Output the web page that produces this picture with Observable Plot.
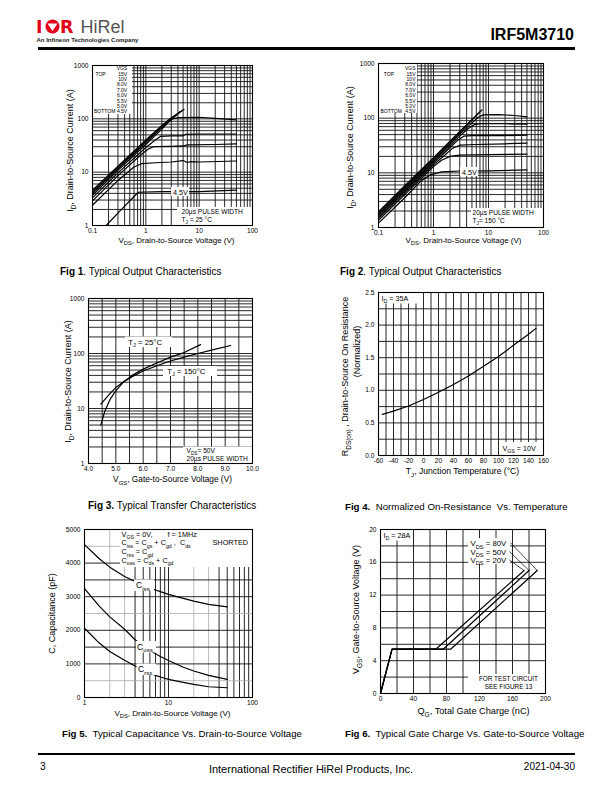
<!DOCTYPE html>
<html><head><meta charset="utf-8">
<script src="https://cdn.jsdelivr.net/npm/d3@7"></script>
<script src="https://cdn.jsdelivr.net/npm/@observablehq/plot@0.6"></script>
<style>
html,body{margin:0;padding:0;background:#fff;}
body{font-family:"Liberation Sans",Arial,Helvetica,sans-serif;color:#000;}
#page{position:relative;width:612px;height:792px;overflow:hidden;background:#fff;}
.abs{position:absolute;white-space:pre;line-height:12px;}
.cap{font-size:10px;}
</style></head><body><div id="page"></div>
<script>
// ---------------- DATA ----------------
// Fig 1: Typical output characteristics, TJ = 25 °C  [VDS (V), ID (A)]
const vgsLevels = ["15V","10V","8.0V","7.0V","6.0V","5.5V","5.0V","4.5V"];
const f1_15V = [[0.1,4.6],[0.3,13],[1,40],[2,75],[3,105],[5.2,150]];
const f1_10V = [[0.1,4.3],[0.3,12.3],[1,38],[2,72],[3,101],[4.8,143]];
const f1_8V  = [[0.1,4.0],[0.3,11.6],[1,36],[2,69],[3,97],[4.4,136]];
const f1_7V  = [[0.1,3.7],[0.3,10.8],[1,33],[2,64],[2.6,85],[3.2,100],[4,105],[10,107],[20,102],[50,96]];
const f1_6V  = [[0.1,3.3],[0.3,9.7],[1,29],[1.5,40],[1.9,47],[3,48],[5,48],[5.5,51],[10,52],[50,52]];
const f1_55V = [[0.1,2.9],[0.3,8.6],[0.8,21],[1.1,27],[1.4,30],[3,30.5],[5,31],[6,32.5],[20,33],[50,34]];
const f1_5V  = [[0.1,2.4],[0.3,7.0],[0.6,12.5],[0.85,14.5],[1.5,15],[3,15.5],[5,16.5],[6,15.2],[7,15.8],[10,15.5],[50,16.2]];
const f1_45V = [[0.18,1.0],[0.35,2.0],[0.72,4.2],[2,4.3],[10,4.3],[50,4.6]];
// Fig 2: Typical output characteristics, TJ = 150 °C
const f2_15V = [[0.1,1.95],[0.3,5.8],[1,19],[3,57],[7.6,142]];
const f2_10V = [[0.1,1.85],[0.3,5.5],[1,18],[3,54],[7.2,135]];
const f2_8V  = [[0.1,1.75],[0.3,5.2],[1,17],[3,51],[5,82],[6.5,104],[8,115],[15,116],[30,112],[50,106]];
const f2_7V  = [[0.1,1.65],[0.3,4.9],[1,16],[3,47],[4.2,64],[5.5,76],[7,79],[20,79],[50,78]];
const f2_6V  = [[0.1,1.55],[0.3,4.6],[1,15],[2,29],[2.8,40],[3.6,47],[5,48],[20,48],[50,49]];
const f2_55V = [[0.1,1.45],[0.3,4.3],[1,14],[1.6,21],[2.2,28],[3,32],[6,33],[20,34],[50,35]];
const f2_5V  = [[0.1,1.35],[0.3,4.0],[1,13],[1.4,17],[2,20],[3,21],[10,21.5],[50,22]];
const f2_45V = [[0.1,1.2],[0.3,3.5],[0.6,7.2],[0.9,9.3],[1.4,10.4],[3,10.8],[10,10.9],[50,11.3]];
// Fig 3: Transfer characteristics [VGS (V), ID (A)]
const f3_25C  = [[4.45,5],[4.6,9],[4.8,15],[5.0,21],[5.3,31],[5.6,40],[6.0,52],[6.5,67],[7.0,86],[7.5,104],[8.1,145]];
const f3_150C = [[4.45,12],[4.8,19],[5.0,24],[5.3,31],[5.6,38],[6.0,48],[6.5,60],[7.0,73],[7.5,86],[8.0,100],[8.5,115],[9.2,140]];
// Fig 4: Normalized RDS(on) vs TJ
const f4_temp = [-55,-40,-20,0,20,40,60,80,100,120,140,150];
const f4_rds  = [0.63,0.68,0.76,0.86,0.97,1.09,1.22,1.37,1.52,1.69,1.86,1.95];
// Fig 5: Capacitance vs VDS (pF)
const f5_vds  = [1,1.5,2,3,4,5,6,7,8,10,15,20,30,50];
const f5_ciss = [4550,4130,3880,3600,3450,3340,3260,3200,3150,3070,2950,2870,2770,2700];
const f5_coss = [3240,2720,2400,2030,1720,1530,1400,1300,1220,1100,900,790,660,540];
const f5_crss = [2060,1620,1370,1110,940,820,720,660,610,540,450,390,320,290];
// Fig 6: Gate charge [QG (nC), VGS (V)]
const f6_20V = [[0,0],[14,5.4],[67,5.4],[174,15]];
const f6_50V = [[0,0],[14,5.4],[76,5.4],[180,15]];
const f6_80V = [[0,0],[14,5.4],[85,5.4],[190,15]];

// ---------------- HELPERS ----------------
const FONT = "'Liberation Sans', Arial, Helvetica, sans-serif";
const page = document.getElementById("page");
const ML = 55, MR = 10, MT = 8, MB = 28;
const lg = Math.log10;
const GRID = "#111", LIGHT = "#aaa", GW = 0.9;
const YL = 9; // y axis label size

function logMinor(a, b) {
  const out = [];
  for (let e = Math.floor(lg(a)); e < Math.ceil(lg(b)); e++)
    for (let k = 1; k < 10; k++) { const v = +(k * Math.pow(10, e)).toPrecision(6); if (v > a * 1.0001 && v < b * 0.9999) out.push(v); }
  return out;
}
function range(a, b, s) { const o = []; for (let v = a; v <= b + 1e-9; v += s) o.push(+v.toFixed(6)); return o; }
function inv(c) {
  const fx = c.xType === "log"
    ? p => Math.pow(10, lg(c.xDomain[0]) + (p - c.l) / c.w * (lg(c.xDomain[1]) - lg(c.xDomain[0])))
    : p => c.xDomain[0] + (p - c.l) / c.w * (c.xDomain[1] - c.xDomain[0]);
  const fy = c.yType === "log"
    ? p => Math.pow(10, lg(c.yDomain[0]) + (c.t + c.h - p) / c.h * (lg(c.yDomain[1]) - lg(c.yDomain[0])))
    : p => c.yDomain[0] + (c.t + c.h - p) / c.h * (c.yDomain[1] - c.yDomain[0]);
  return {fx, fy};
}
function boxes(c, list) {
  const {fx, fy} = inv(c);
  return Plot.rect(list.map(([a, b, d, e]) => ({x1: fx(a), x2: fx(d), y1: fy(e), y2: fy(b)})),
    {x1: "x1", x2: "x2", y1: "y1", y2: "y2", fill: "white"});
}
function lbl(c, s, px, py, o = {}) {
  return Plot.text([s], {text: d => d, frameAnchor: "top-left", dx: px - c.l, dy: py - c.t,
    textAnchor: o.anchor || "start", lineAnchor: "middle", fontSize: o.size || 7,
    rotate: o.rotate || 0, fill: "black"});
}
function seriesRows(list) {
  return list.flatMap(([name, pts]) => pts.map(([x, y]) => ({name, x, y})));
}
function subify(root) {
  const NS = "http://www.w3.org/2000/svg";
  root.querySelectorAll("text, tspan").forEach(n => {
    if (n.children.length) return;
    const s = n.textContent;
    if (!s || s.indexOf("_{") < 0) return;
    const fs = parseFloat(getComputedStyle(n).fontSize) || 8;
    const sh = fs * 0.3;
    n.textContent = "";
    const re = /_\{([^}]*)\}/g;
    let last = 0, m, down = false;
    const push = (t, sub) => {
      if (!t) return;
      const ts = document.createElementNS(NS, "tspan");
      ts.textContent = t;
      if (sub) { ts.setAttribute("font-size", (fs * 0.72).toFixed(2)); if (!down) { ts.setAttribute("dy", sh.toFixed(2)); down = true; } }
      else if (down) { ts.setAttribute("dy", (-sh).toFixed(2)); down = false; }
      n.appendChild(ts);
    };
    while ((m = re.exec(s))) { push(s.slice(last, m.index), false); push(m[1], true); last = re.lastIndex; }
    push(s.slice(last), false);
  });
}
function chart(c, marks) {
  const svg = Plot.plot({
    width: c.w + ML + MR, height: c.h + MT + MB,
    marginLeft: ML, marginRight: MR, marginTop: MT, marginBottom: MB,
    style: {fontFamily: FONT, fontSize: "6.6px", color: "black", background: "none", overflow: "visible"},
    x: {type: c.xType, domain: c.xDomain, ticks: c.xTicks, tickFormat: c.xFmt, tickSize: 0, tickPadding: 3, label: null},
    y: {type: c.yType, domain: c.yDomain, ticks: c.yTicks, tickFormat: c.yFmt, tickSize: 0, tickPadding: 4, label: null},
    marks: [...marks, Plot.frame({stroke: "black", strokeWidth: 1.1})]
  });
  svg.style.position = "absolute";
  svg.style.left = (c.l - ML) + "px";
  svg.style.top = (c.t - MT) + "px";
  page.appendChild(svg);
  subify(svg);
}
const str = d => String(d);
const LINE = {stroke: "black", strokeWidth: 1.2};

// ---------------- FIG 1 ----------------
const C1 = {l: 92, t: 65, w: 160, h: 160, xType: "log", xDomain: [0.1, 100], yType: "log", yDomain: [1, 1000],
  xTicks: [0.1, 1, 10, 100], yTicks: [1, 10, 100, 1000], xFmt: str, yFmt: str};
const f1Series = [[vgsLevels[0], f1_15V], [vgsLevels[1], f1_10V], [vgsLevels[2], f1_8V], [vgsLevels[3], f1_7V],
  [vgsLevels[4], f1_6V], [vgsLevels[5], f1_55V], [vgsLevels[6], f1_5V], [vgsLevels[7], f1_45V]];
chart(C1, [
  Plot.ruleX(logMinor(0.1, 100), {stroke: GRID, strokeWidth: GW}),
  Plot.ruleY(logMinor(1, 1000), {stroke: GRID, strokeWidth: GW}),
  Plot.line(seriesRows(f1Series), {x: "x", y: "y", z: "name", ...LINE}),
  boxes(C1, [[92, 65, 132, 114], [177, 207, 252, 225], [171, 187, 189, 196]]),
  ...["VGS", ...vgsLevels].map((s, i) => lbl(C1, s, 126.7, 68.3 + 5.35 * i, {anchor: "end", size: 5})),
  lbl(C1, "TOP", 95, 73.7, {size: 5}),
  lbl(C1, "BOTTOM", 93.5, 111.1, {size: 5}),
  lbl(C1, "20µs PULSE WIDTH", 181, 211.5, {size: 6.6}),
  lbl(C1, "T_{J} = 25 °C", 181, 219.5, {size: 6.6}),
  lbl(C1, "4.5V", 180, 191.7, {anchor: "middle", size: 7.2}),
  lbl(C1, "I_{D}, Drain-to-Source Current (A)", 70, 150, {anchor: "middle", size: YL, rotate: -90}),
  lbl(C1, "V_{DS}, Drain-to-Source Voltage (V)", 176, 240, {anchor: "middle", size: 8})
]);

// ---------------- FIG 2 ----------------
const C2 = {l: 378, t: 63, w: 165, h: 164, xType: "log", xDomain: [0.1, 100], yType: "log", yDomain: [1, 1000],
  xTicks: [0.1, 1, 10, 100], yTicks: [1, 10, 100, 1000], xFmt: str, yFmt: str};
const f2Series = [[vgsLevels[0], f2_15V], [vgsLevels[1], f2_10V], [vgsLevels[2], f2_8V], [vgsLevels[3], f2_7V],
  [vgsLevels[4], f2_6V], [vgsLevels[5], f2_55V], [vgsLevels[6], f2_5V], [vgsLevels[7], f2_45V]];
chart(C2, [
  Plot.ruleX(logMinor(0.1, 100), {stroke: GRID, strokeWidth: GW}),
  Plot.ruleY(logMinor(1, 1000), {stroke: GRID, strokeWidth: GW}),
  Plot.line(seriesRows(f2Series), {x: "x", y: "y", z: "name", ...LINE}),
  boxes(C2, [[378, 63, 417, 113], [471, 208, 543, 227], [460, 167, 478, 176]]),
  ...["VGS", ...vgsLevels].map((s, i) => lbl(C2, s, 415, 68.3 + 5.35 * i, {anchor: "end", size: 5})),
  lbl(C2, "TOP", 383.3, 73.7, {size: 5}),
  lbl(C2, "BOTTOM", 380, 111.1, {size: 5}),
  lbl(C2, "20µs PULSE WIDTH", 472, 212.5, {size: 6.6}),
  lbl(C2, "T_{J}= 150 °C", 472, 220, {size: 6.6}),
  lbl(C2, "4.5V", 469, 171.7, {anchor: "middle", size: 7.2}),
  lbl(C2, "I_{D}, Drain-to-Source Current (A)", 350, 147, {anchor: "middle", size: YL, rotate: -90}),
  lbl(C2, "V_{DS}, Drain-to-Source Voltage (V)", 463, 240, {anchor: "middle", size: 8})
]);

// ---------------- FIG 3 ----------------
const C3 = {l: 88, t: 298, w: 164, h: 165, xType: "linear", xDomain: [4, 10], yType: "log", yDomain: [1, 1000],
  xTicks: range(4, 10, 1), yTicks: [1, 10, 100, 1000], xFmt: d3.format(".1f"), yFmt: str};
chart(C3, [
  Plot.ruleX(range(4.5, 9.5, 0.5), {stroke: GRID, strokeWidth: GW}),
  Plot.ruleY(logMinor(1, 1000), {stroke: GRID, strokeWidth: GW}),
  Plot.line(seriesRows([["25", f3_25C], ["150", f3_150C]]), {x: "x", y: "y", z: "name", ...LINE}),
  boxes(C3, [[125, 336.5, 172, 347], [163, 366, 217, 376], [183, 446.5, 252, 463]]),
  lbl(C3, "T_{J} = 25°C", 127.7, 341.7, {size: 7.8}),
  lbl(C3, "T_{J} = 150°C", 166.7, 371, {size: 7.8}),
  lbl(C3, "V_{DS}= 50V", 186, 450.5, {size: 6.6}),
  lbl(C3, "20µs PULSE WIDTH", 186, 458, {size: 6.6}),
  lbl(C3, "I_{D}, Drain-to-Source Current (A)", 68, 381, {anchor: "middle", size: YL, rotate: -90}),
  lbl(C3, "V_{GS}, Gate-to-Source Voltage (V)", 172, 479, {anchor: "middle", size: 8.3})
]);

// ---------------- FIG 4 ----------------
const C4 = {l: 378, t: 292, w: 165, h: 163, xType: "linear", xDomain: [-60, 160], yType: "linear", yDomain: [0, 2.5],
  xTicks: range(-60, 160, 20), yTicks: range(0, 2.5, 0.5), xFmt: str, yFmt: d3.format(".1f")};
chart(C4, [
  Plot.ruleX(range(-50, 150, 10), {stroke: GRID, strokeWidth: GW}),
  Plot.ruleY(range(0.25, 2.25, 0.25), {stroke: GRID, strokeWidth: GW}),
  Plot.line(f4_temp.map((t, i) => ({x: t, y: f4_rds[i]})), {x: "x", y: "y", ...LINE}),
  boxes(C4, [[378, 292, 417, 303.5], [500, 442, 543, 455]]),
  lbl(C4, "I_{D} = 35A", 381, 298, {size: 7.2}),
  lbl(C4, "V_{GS} = 10V", 502, 448.5, {size: 7.2}),
  lbl(C4, "R_{DS(on)} , Drain-to-Source On Resistance", 345, 376, {anchor: "middle", size: YL, rotate: -90}),
  lbl(C4, "(Normalized)", 357, 351, {anchor: "middle", size: YL, rotate: -90}),
  lbl(C4, "T_{J}, Junction Temperature (°C)", 462, 471, {anchor: "middle", size: 8.6})
]);

// ---------------- FIG 5 ----------------
const C5 = {l: 84, t: 529, w: 168, h: 168, xType: "log", xDomain: [1, 100], yType: "linear", yDomain: [0, 5000],
  xTicks: [1, 10, 100], yTicks: range(0, 5000, 1000), xFmt: str, yFmt: str};
const f5Minor = logMinor(1, 100);
const f5Light = [2, 3, 20, 30];
const f5H = range(500, 4500, 500);
const f5HLight = [500, 2500, 4500];
chart(C5, [
  Plot.ruleX(f5Minor.filter(v => f5Light.includes(v)), {stroke: LIGHT, strokeWidth: 0.8}),
  Plot.ruleX(f5Minor.filter(v => !f5Light.includes(v)), {stroke: GRID, strokeWidth: GW}),
  Plot.ruleY(f5H.filter(v => f5HLight.includes(v)), {stroke: LIGHT, strokeWidth: 0.8}),
  Plot.ruleY(f5H.filter(v => !f5HLight.includes(v)), {stroke: GRID, strokeWidth: GW}),
  Plot.line(seriesRows([["Ciss", f5_vds.map((v, i) => [v, f5_ciss[i]])], ["Coss", f5_vds.map((v, i) => [v, f5_coss[i]])],
    ["Crss", f5_vds.map((v, i) => [v, f5_crss[i]])]]), {x: "x", y: "y", z: "name", ...LINE}),
  boxes(C5, [[120, 529, 252, 567], [134, 579.5, 154, 591], [136, 641, 156, 652.5], [136.5, 663.5, 156, 675]]),
  lbl(C5, "V_{GS} = 0V,", 121, 534, {size: 7.3}),
  lbl(C5, "f = 1MHz", 167, 534, {size: 7.3}),
  lbl(C5, "C_{iss} = C_{gs} + C_{gd} ,  C_{ds}", 121, 542.5, {size: 7.3}),
  lbl(C5, "SHORTED", 212, 542.5, {size: 7.3}),
  lbl(C5, "C_{rss} = C_{gd}", 121, 551.5, {size: 7.3}),
  lbl(C5, "C_{oss} = C_{ds} + C_{gd}", 121, 560, {size: 7.3}),
  lbl(C5, "C_{iss}", 135.5, 585, {size: 8.6}),
  lbl(C5, "C_{oss}", 136.5, 646.5, {size: 8.6}),
  lbl(C5, "C_{rss}", 137.5, 669, {size: 8.6}),
  lbl(C5, "C, Capacitance (pF)", 52, 613, {anchor: "middle", size: YL, rotate: -90}),
  lbl(C5, "V_{DS}, Drain-to-Source Voltage (V)", 172, 713, {anchor: "middle", size: 8})
]);

// ---------------- FIG 6 ----------------
const C6 = {l: 380, t: 529, w: 165, h: 164, xType: "linear", xDomain: [0, 200], yType: "linear", yDomain: [0, 20],
  xTicks: range(0, 200, 40), yTicks: range(0, 20, 4), xFmt: str, yFmt: str};
const f6Series = [["20V", f6_20V], ["50V", f6_50V], ["80V", f6_80V]];
const inv6 = inv(C6);
const leaders = [[510, 542.3, f6_80V], [509, 551, f6_50V], [509, 559.5, f6_20V]].map(([px, py, s]) =>
  ({x1: inv6.fx(px), y1: inv6.fy(py), x2: s[s.length - 1][0], y2: s[s.length - 1][1]}));
chart(C6, [
  Plot.ruleX(range(20, 180, 20), {stroke: GRID, strokeWidth: GW}),
  Plot.ruleY(range(2, 18, 2), {stroke: GRID, strokeWidth: GW}),
  Plot.line(seriesRows(f6Series), {x: "x", y: "y", z: "name", ...LINE}),
  boxes(C6, [[380, 529, 412, 540.5], [468, 538, 510, 564], [468, 674, 545, 693]]),
  Plot.link(leaders, {x1: "x1", y1: "y1", x2: "x2", y2: "y2", stroke: "black", strokeWidth: 0.7}),
  lbl(C6, "I_{D} = 28A", 383, 535, {size: 7.2}),
  lbl(C6, "V_{DS} = 80V", 470, 543.3, {size: 7.8}),
  lbl(C6, "V_{DS} = 50V", 470, 551.7, {size: 7.8}),
  lbl(C6, "V_{DS} = 20V", 470, 560, {size: 7.8}),
  lbl(C6, "FOR TEST CIRCUIT", 508, 678.6, {anchor: "middle", size: 6.4}),
  lbl(C6, "SEE FIGURE 13", 508, 686.6, {anchor: "middle", size: 6.4}),
  lbl(C6, "V_{GS}, Gate-to-Source Voltage (V)", 356, 609, {anchor: "middle", size: YL, rotate: -90}),
  lbl(C6, "Q_{G}, Total Gate Charge (nC)", 473, 711, {anchor: "middle", size: 9.2})
]);

// ---------------- PAGE TEXT ----------------
function div(html, css) { const d = document.createElement("div"); d.className = "abs"; d.innerHTML = html; Object.assign(d.style, css); page.appendChild(d); return d; }
// header logo
div(`<svg width="130" height="38" viewBox="0 0 130 38" style="display:block;overflow:visible">
  <text x="0" y="24" font-family="'DejaVu Sans'" font-weight="bold" font-size="17.5" fill="#e2001a">I</text>
  <circle cx="16.5" cy="17.5" r="7" fill="#e2001a"/>
  <path d="M11.5 14.5 L21.5 14.5 L16.5 22 Z" fill="#fff"/>
  <text x="24" y="24" font-family="'DejaVu Sans'" font-weight="bold" font-size="17.5" fill="#e2001a">R</text>
  <text x="44.5" y="24" font-family="'Liberation Sans'" font-size="18" fill="#555">HiRel</text>
  <text x="0.5" y="33" font-family="'Liberation Sans'" font-weight="bold" font-size="6" fill="#222">An Infineon Technologies Company</text>
</svg>`, {left: "36px", top: "9px"});
div("IRF5M3710", {right: "38px", top: "26px", fontSize: "16px", fontWeight: "bold", lineHeight: "18px"});
div("", {left: "38px", top: "47px", width: "537px", height: "3px", background: "#000"});
// captions
div("<b>Fig 1</b>. Typical Output Characteristics", {left: "60px", top: "266px"}).classList.add("cap");
div("<b>Fig 2</b>. Typical Output Characteristics", {left: "340px", top: "266px"}).classList.add("cap");
div("<b>Fig 3.</b> Typical Transfer Characteristics", {left: "88px", top: "500px"}).classList.add("cap");
div("<b>Fig 4.</b>  Normalized On-Resistance  Vs. Temperature", {left: "345px", top: "501px", fontSize: "9.7px"}).classList.add("cap");
div("<b>Fig 5.</b>  Typical Capacitance Vs. Drain-to-Source Voltage", {left: "62px", top: "728px", fontSize: "9.7px"}).classList.add("cap");
div("<b>Fig 6.</b>  Typical Gate Charge Vs. Gate-to-Source Voltage", {left: "345px", top: "728px", fontSize: "9.7px"}).classList.add("cap");
// footer
div("", {left: "38px", top: "753px", width: "537px", height: "2px", background: "#000"});
div("3", {left: "40px", top: "761px", fontSize: "10px"});
div("International Rectifier HiRel Products, Inc.", {left: "0px", width: "622px", textAlign: "center", top: "763px", fontSize: "11px"});
div("2021-04-30", {right: "37px", top: "761px", fontSize: "10px"});
</script></body></html>
